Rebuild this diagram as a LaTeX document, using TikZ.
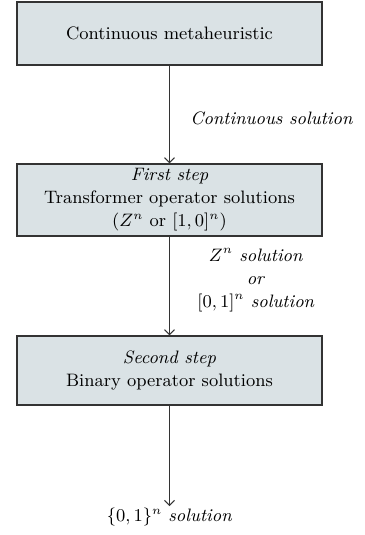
\documentclass[tikz,border=0pt]{standalone}
\usepackage{amsmath}
\usetikzlibrary{arrows.meta,positioning}

\definecolor{boxfill}{RGB}{218,226,229}
\definecolor{linegray}{RGB}{51,51,51}

\begin{document}
\begin{tikzpicture}[x=0.5pt,y=-0.5pt,font=\fontsize{9}{11.5}\selectfont,
    stepbox/.style={draw=linegray,fill=boxfill,line width=0.6pt,minimum width=152.5pt,align=center,inner sep=0pt},
    flow/.style={draw=linegray,line width=0.5pt,-{Straight Barb[length=2.5pt,width=5pt]}},
    lbl/.style={align=center,inner sep=1pt}]
    \useasboundingbox (0,0) rectangle (364,535);

    \node[stepbox,minimum height=31.5pt] (meta) at (169.5,33.5) {Continuous metaheuristic};
    \node[stepbox,minimum height=36pt] (first) at (169.5,200) {\textit{First step}\\Transformer operator solutions\\($Z^n$ or $[1, 0]^n$)};
    \node[stepbox,minimum height=34.5pt] (second) at (169.5,370.5) {\textit{Second step}\\Binary operator solutions};

    % label
    \node[lbl,right] (contsol) at (188,118) {\textit{Continuous solution}};
    \node[lbl] (mixsol) at (256,280) {$Z^n$ \textit{solution}\\\textit{or}\\$[0, 1]^n$ \textit{solution}};
    \node[lbl,below] (binsol) at (169.5,506) {$\{0, 1\}^n$ \textit{solution}};

    \foreach \from/\to in {meta/first,first/second,second/binsol}
    \draw[flow] (\from) -- (\to);
\end{tikzpicture}
\end{document}
